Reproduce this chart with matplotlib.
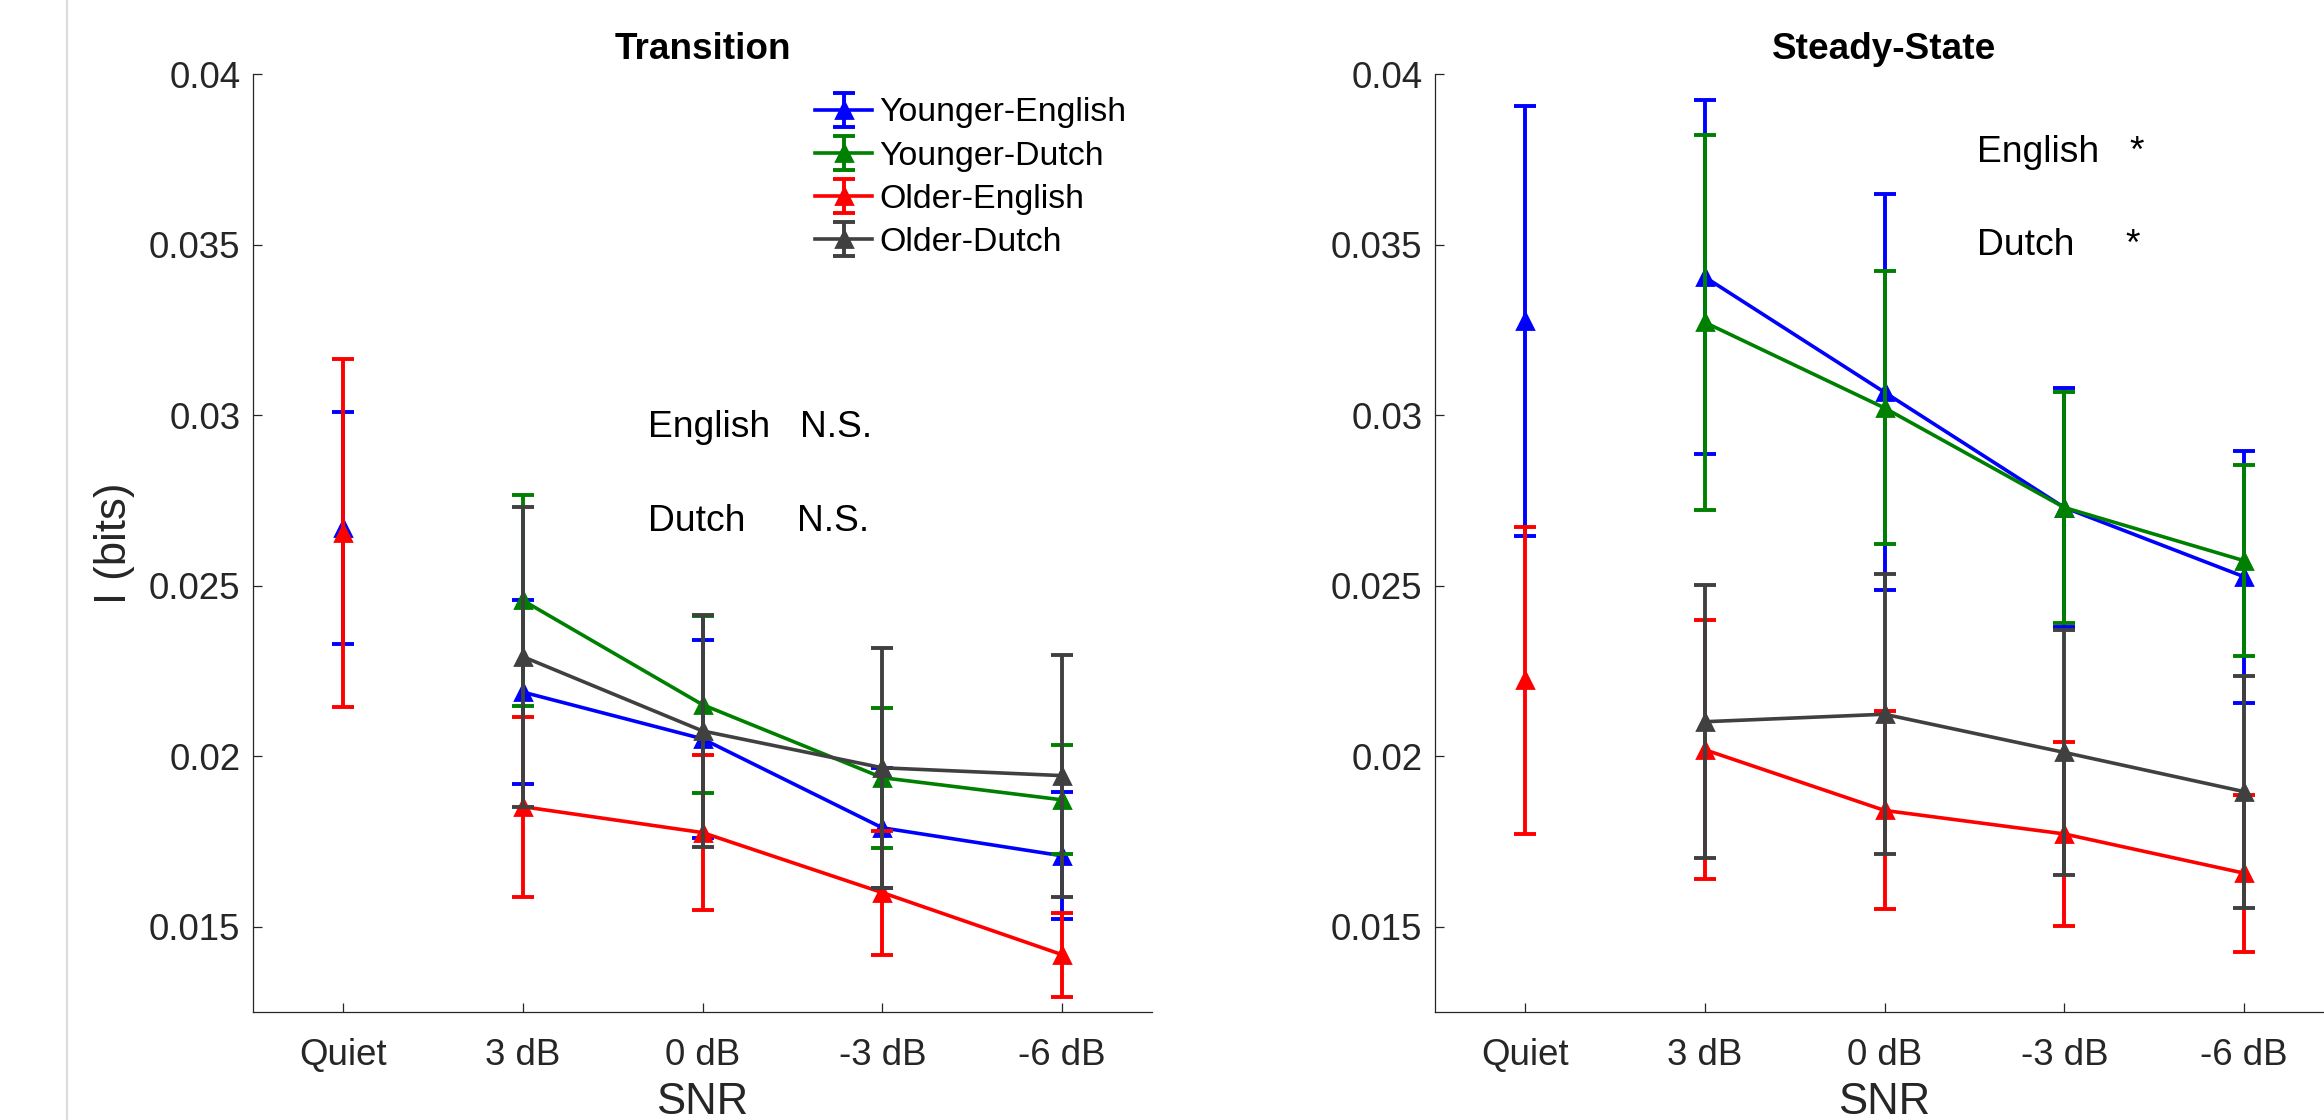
import numpy as np
import matplotlib
matplotlib.use("Agg")
import matplotlib.pyplot as plt
from matplotlib.lines import Line2D

# ---------------- data ----------------
conditions = ["Quiet", "3 dB", "0 dB", "-3 dB", "-6 dB"]
ytick_vals = [0.015, 0.02, 0.025, 0.03, 0.035, 0.04]
ytick_labels = ["0.015", "0.02", "0.025", "0.03", "0.035", "0.04"]
groups = ["Younger-English", "Younger-Dutch", "Older-English", "Older-Dutch"]

# Transition panel (mean, SE)
trans_yeng = [0.02668, 0.02188, 0.02051, 0.01790, 0.01708]
trans_yeng_err = [0.0034, 0.0027, 0.0029, 0.00176, 0.00186]
trans_ydut = [np.nan, 0.02457, 0.02151, 0.01937, 0.01872]
trans_ydut_err = [np.nan, 0.0031, 0.0026, 0.00205, 0.0016]
trans_oeng = [0.02655, 0.01852, 0.01776, 0.01600, 0.01418]
trans_oeng_err = [0.0051, 0.00264, 0.00226, 0.00182, 0.00123]
trans_odut = [np.nan, 0.02292, 0.02074, 0.01966, 0.01943]
trans_odut_err = [np.nan, 0.0044, 0.0034, 0.00352, 0.00355]

# Steady-State panel (mean, SE)
steady_yeng = [0.03276, 0.03405, 0.03067, 0.02729, 0.02526]
steady_yeng_err = [0.0063, 0.0052, 0.0058, 0.0035, 0.0037]
steady_ydut = [np.nan, 0.03272, 0.03021, 0.02729, 0.02573]
steady_ydut_err = [np.nan, 0.0055, 0.0040, 0.0034, 0.0028]
steady_oeng = [0.02222, 0.02019, 0.01841, 0.01772, 0.01657]
steady_oeng_err = [0.0045, 0.0038, 0.0029, 0.0027, 0.0023]
steady_odut = [np.nan, 0.02101, 0.02123, 0.02011, 0.01896]
steady_odut_err = [np.nan, 0.0040, 0.0041, 0.0036, 0.0034]

trans_stats = [("English", "N.S."), ("Dutch", "N.S.")]
steady_stats = [("English", "*"), ("Dutch", "*")]

# ---------------- style ----------------
plt.rcParams['font.family'] = ['Liberation Sans', 'DejaVu Sans']
colors = ["#0000ff", "#008000", "#ff0000", "#404040"]
axcol = (0.15, 0.15, 0.15)

fig = plt.figure(figsize=(11.62, 5.6), dpi=200)
fig.patch.set_facecolor("white")
fig.add_artist(Line2D([67 / 2324, 67 / 2324], [0, 1], transform=fig.transFigure,
                      color=(0.86, 0.86, 0.86), lw=0.8))

ax1 = fig.add_axes([253 / 2324, 1 - 1012 / 1120, 899 / 2324, 938 / 1120])
ax2 = fig.add_axes([1435 / 2324, 1 - 1012 / 1120, 899 / 2324, 938 / 1120])

x = np.arange(1, len(conditions) + 1)


def draw(ax, series, errs, title):
    handles = []
    for i, (m, e) in enumerate(zip(series, errs)):
        m = np.asarray(m, float)
        e = np.asarray(e, float)
        kw = dict(color=colors[i], marker='^', ms=5.8, lw=1.3, elinewidth=1.4,
                  capsize=4, capthick=1.4, zorder=3 + i)
        h = ax.errorbar(x[1:], m[1:], yerr=e[1:], label=groups[i], **kw)
        handles.append(h)
        if not np.isnan(m[0]):
            ax.errorbar(x[:1], m[:1], yerr=e[:1], linestyle='none', **kw)
    ax.set_xlim(0.5, 5.5)
    ax.set_ylim(0.0125, 0.04)
    ax.set_xticks(x)
    ax.set_xticklabels(conditions)
    ax.set_yticks(ytick_vals)
    ax.set_yticklabels(ytick_labels)
    for s in ("top", "right"):
        ax.spines[s].set_visible(False)
    for s in ("left", "bottom"):
        ax.spines[s].set_color(axcol)
        ax.spines[s].set_linewidth(0.45)
    ax.tick_params(axis='both', direction='in', length=3.2, width=0.45,
                   color=axcol, labelcolor=axcol, labelsize=13.2)
    ax.tick_params(axis='x', pad=9.5)
    ax.tick_params(axis='y', pad=4.5)
    ax.set_xlabel("SNR", fontsize=15.7, color=axcol, labelpad=3)
    ax.set_title(title, fontsize=13.3, fontweight='bold', pad=5.5)
    return handles


h1 = draw(ax1, [trans_yeng, trans_ydut, trans_oeng, trans_odut],
          [trans_yeng_err, trans_ydut_err, trans_oeng_err, trans_odut_err], "Transition")
draw(ax2, [steady_yeng, steady_ydut, steady_oeng, steady_odut],
     [steady_yeng_err, steady_ydut_err, steady_oeng_err, steady_odut_err], "Steady-State")

ax1.set_ylabel("I (bits)", fontsize=15.7, color=axcol, labelpad=5)

ax1.legend(handles=h1, labels=groups, frameon=False, loc='upper left',
           bbox_to_anchor=(0.625, 0.975), borderaxespad=0, borderpad=0,
           handlelength=1.7, handletextpad=0.2, labelspacing=0.36, fontsize=12.2)

# annotations
ax1.text(2.697, 0.02936, trans_stats[0][0], fontsize=13.4, va='baseline')
ax1.text(3.545, 0.02936, trans_stats[0][1], fontsize=13.4, va='baseline')
ax1.text(2.697, 0.02661, trans_stats[1][0], fontsize=13.4, va='baseline')
ax1.text(3.528, 0.02661, trans_stats[1][1], fontsize=13.4, va='baseline')

ax2.text(3.515, 0.03743, steady_stats[0][0], fontsize=13.4, va='baseline')
ax2.text(4.40, 0.03743, steady_stats[0][1], fontsize=13.4, va='baseline', ha='center')
ax2.text(3.515, 0.0347, steady_stats[1][0], fontsize=13.4, va='baseline')
ax2.text(4.383, 0.0347, steady_stats[1][1], fontsize=13.4, va='baseline', ha='center')

fig.savefig("out.png", dpi=200, facecolor="white")
